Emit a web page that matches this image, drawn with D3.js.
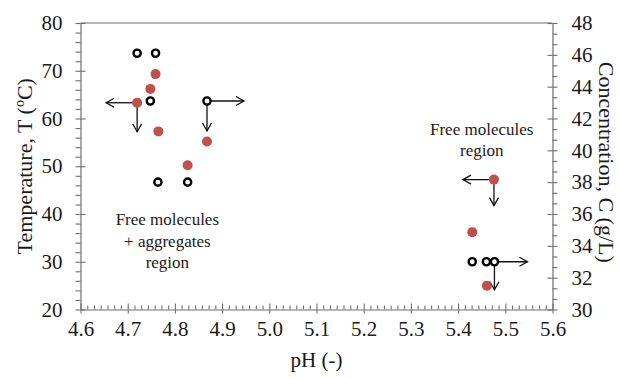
<!DOCTYPE html>
<html>
<head>
<meta charset="utf-8">
<script src="https://cdn.jsdelivr.net/npm/d3@7"></script>
<style>
  html, body { margin: 0; padding: 0; background: #fff; }
  svg { display: block; font-family: "Liberation Serif", "Times New Roman", serif; }
</style>
</head>
<body>
<svg id="chart" width="619" height="378"></svg>
<script>
// ---- Data ----
// Temperature series (red filled), plotted on left axis
const pHT = [4.720, 4.748, 4.759, 4.765, 4.827, 4.868, 5.430, 5.461, 5.476];
const tempT = [63.3, 66.2, 69.3, 57.3, 50.2, 55.2, 36.2, 25.0, 47.2];
// Concentration series (black open), plotted on right axis
const pHC = [4.720, 4.759, 4.748, 4.868, 4.764, 4.827, 5.430, 5.460, 5.477];
const concC = [46.1, 46.1, 43.1, 43.1, 38.0, 38.0, 33.0, 33.0, 33.0];

const xTicks = [4.6, 4.7, 4.8, 4.9, 5.0, 5.1, 5.2, 5.3, 5.4, 5.5, 5.6];
const yLeftTicks = [20, 30, 40, 50, 60, 70, 80];
const yRightTicks = [30, 32, 34, 36, 38, 40, 42, 44, 46, 48];

const xTitle = "pH (-)";
// Region labels anchored in data coordinates (pH, temperature of first baseline)
const regionLabels = [
  { lines: ["Free molecules", "+ aggregates", "region"], x: 4.784, t: 37.6 },
  { lines: ["Free molecules", "region"], x: 5.45, t: 56.6 }
];
// Arrows: series, point index, direction
const arrows = [
  { s: "T", i: 0, dir: "left", len: 31 }, { s: "T", i: 0, dir: "down", len: 29 },
  { s: "C", i: 3, dir: "right", len: 37 }, { s: "C", i: 3, dir: "down", len: 30 },
  { s: "T", i: 8, dir: "left", len: 31 }, { s: "T", i: 8, dir: "down", len: 26 },
  { s: "C", i: 8, dir: "right", len: 33 }, { s: "C", i: 8, dir: "down", len: 28 }
];

// ---- Layout ----
const L = 80.5, R = 552.5, T = 23, B = 309.5;
const svg = d3.select("#chart");
const x = d3.scaleLinear().domain([4.6, 5.6]).range([L, R]);
const yT = d3.scaleLinear().domain([20, 80]).range([B, T]);
const yC = d3.scaleLinear().domain([30, 48]).range([B, T]);

const axisColor = "#6e6e6e";
const textColor = "#1a1a1a";
const fmt1 = d3.format(".1f");

function styleAxis(g, keepDomain) {
  if (!keepDomain) g.select(".domain").remove();
  else g.select(".domain").attr("stroke", axisColor).attr("stroke-width", 1.2);
  g.selectAll(".tick line").attr("stroke", axisColor).attr("stroke-width", 1.1);
  g.selectAll(".tick text").attr("fill", textColor).style("font-size", "21px")
    .style("font-family", '"Liberation Serif", "Times New Roman", serif');
}

const xMinor = d3.range(4.6, 5.6001, 0.1 / 7).filter(v => Math.abs(v * 10 - Math.round(v * 10)) > 1e-6);
const yLMinor = d3.range(20, 80.001, 2).filter(v => v % 10 !== 0);
const yRMinor = d3.range(30, 48.001, 2 / 3).filter(v => Math.abs(v / 2 - Math.round(v / 2)) > 1e-6);

// top border
svg.append("line").attr("x1", L).attr("x2", R).attr("y1", T).attr("y2", T)
  .attr("stroke", axisColor).attr("stroke-width", 1.2);

// X axis
svg.append("g").attr("transform", `translate(0,${B})`)
  .call(d3.axisTop(x).tickValues(xMinor).tickFormat("").tickSize(4).tickSizeOuter(0))
  .call(g => styleAxis(g, false));
svg.append("g").attr("transform", `translate(0,${B})`)
  .call(d3.axisTop(x).tickValues(xTicks).tickFormat("").tickSize(6).tickSizeOuter(0))
  .call(g => styleAxis(g, false));
svg.append("g").attr("transform", `translate(0,${B})`)
  .call(d3.axisBottom(x).tickValues(xTicks).tickFormat(fmt1).tickSize(4).tickPadding(8).tickSizeOuter(0))
  .call(g => styleAxis(g, true));

// Left axis
svg.append("g").attr("transform", `translate(${L},0)`)
  .call(d3.axisLeft(yT).tickValues(yLMinor).tickFormat("").tickSize(5).tickSizeOuter(0))
  .call(g => styleAxis(g, false));
svg.append("g").attr("transform", `translate(${L},0)`)
  .call(d3.axisRight(yT).tickValues(yLeftTicks).tickFormat("").tickSize(5).tickSizeOuter(0))
  .call(g => styleAxis(g, false));
svg.append("g").attr("transform", `translate(${L},0)`)
  .call(d3.axisLeft(yT).tickValues(yLeftTicks).tickSize(5).tickPadding(13).tickSizeOuter(0))
  .call(g => styleAxis(g, true));

// Right axis
svg.append("g").attr("transform", `translate(${R},0)`)
  .call(d3.axisRight(yC).tickValues(yRMinor).tickFormat("").tickSize(5).tickSizeOuter(0))
  .call(g => styleAxis(g, false));
svg.append("g").attr("transform", `translate(${R},0)`)
  .call(d3.axisLeft(yC).tickValues(yRightTicks).tickFormat("").tickSize(5).tickSizeOuter(0))
  .call(g => styleAxis(g, false));
svg.append("g").attr("transform", `translate(${R},0)`)
  .call(d3.axisRight(yC).tickValues(yRightTicks).tickSize(5).tickPadding(14).tickSizeOuter(0))
  .call(g => styleAxis(g, true));

// Axis titles
svg.append("text").attr("x", (L + R) / 2).attr("y", 367).attr("text-anchor", "middle")
  .attr("fill", textColor).style("font-size", "21px").text(xTitle);

const lt = svg.append("text").attr("transform", `translate(32,${(T + B) / 2}) rotate(-90)`)
  .attr("text-anchor", "middle").attr("fill", textColor).style("font-size", "22px");
lt.append("tspan").text("Temperature, T (");
lt.append("tspan").attr("dy", -8).style("font-size", "14px").text("o");
lt.append("tspan").attr("dy", 8).text("C)");

svg.append("text").attr("transform", `translate(599,${(T + B) / 2 - 4}) rotate(90)`)
  .attr("text-anchor", "middle").attr("fill", textColor).style("font-size", "22px")
  .text("Concentration, C (g/L)");

// Arrow marker
svg.append("defs").append("marker").attr("id", "arr")
  .attr("viewBox", "-10 -6 12 12").attr("refX", 0).attr("refY", 0)
  .attr("markerWidth", 12).attr("markerHeight", 12).attr("markerUnits", "userSpaceOnUse")
  .attr("orient", "auto")
  .append("path").attr("d", "M-8,-4.5 L0,0 L-8,4.5").attr("fill", "none")
  .attr("stroke", "#111").attr("stroke-width", 1.3);

function pt(a) {
  return a.s === "T" ? [x(pHT[a.i]), yT(tempT[a.i])] : [x(pHC[a.i]), yC(concC[a.i])];
}
const dirs = { left: [-1, 0], right: [1, 0], down: [0, 1], up: [0, -1] };
svg.append("g").selectAll("line").data(arrows).join("line")
  .attr("x1", d => pt(d)[0]).attr("y1", d => pt(d)[1])
  .attr("x2", d => pt(d)[0] + dirs[d.dir][0] * d.len)
  .attr("y2", d => pt(d)[1] + dirs[d.dir][1] * d.len)
  .attr("stroke", "#111").attr("stroke-width", 1.3).attr("marker-end", "url(#arr)");

// Temperature points (red)
svg.append("g").selectAll("circle").data(pHT).join("circle")
  .attr("cx", d => x(d)).attr("cy", (d, i) => yT(tempT[i])).attr("r", 5)
  .attr("fill", "#c0504d");

// Concentration points (black open)
svg.append("g").selectAll("circle").data(pHC).join("circle")
  .attr("cx", d => x(d)).attr("cy", (d, i) => yC(concC[i])).attr("r", 3.6)
  .attr("fill", "#fff").attr("stroke", "#000").attr("stroke-width", 2.4);

// Region labels
regionLabels.forEach(r => {
  const t = svg.append("text").attr("text-anchor", "middle").attr("fill", textColor)
    .style("font-size", "17px");
  r.lines.forEach((ln, k) => {
    t.append("tspan").attr("x", x(r.x)).attr("y", yT(r.t) + k * 21.5).text(ln);
  });
});
</script>
</body>
</html>
